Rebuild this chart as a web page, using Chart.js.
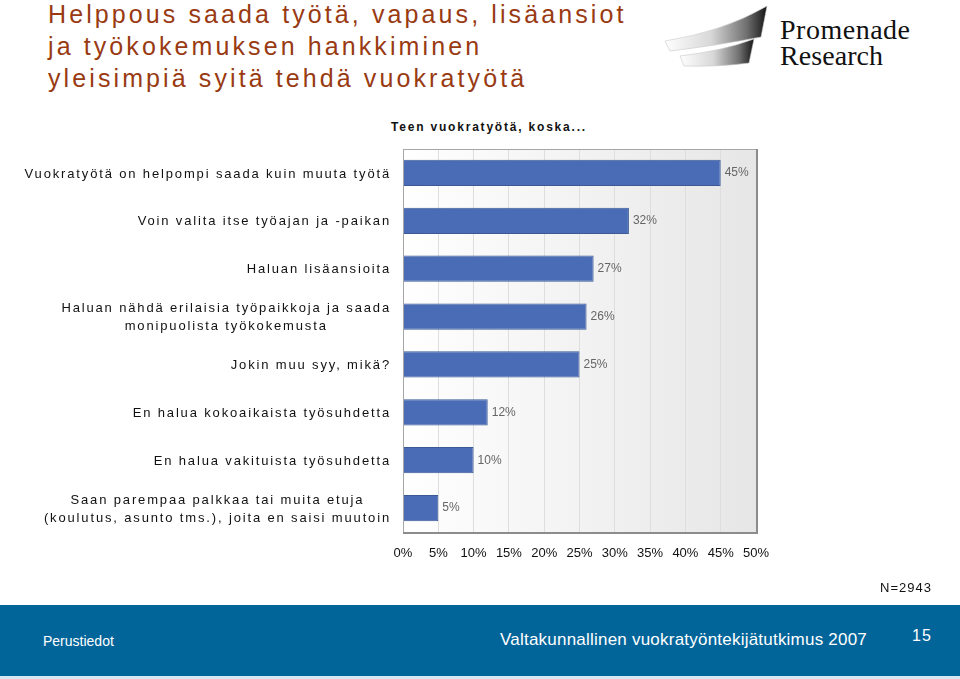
<!DOCTYPE html>
<html>
<head>
<meta charset="utf-8">
<script src="https://cdn.jsdelivr.net/npm/chart.js@4.4.1/dist/chart.umd.min.js"></script>
<style>
  html, body { margin: 0; padding: 0; background: #fff; }
  body { width: 960px; height: 679px; position: relative; overflow: hidden; font-family: "Liberation Sans", Arial, sans-serif; }
  #chartWrap { position: absolute; left: 0; top: 0; width: 960px; height: 679px; }
  .title { position: absolute; left: 48px; top: -2px; color: #993a12; font-size: 25px; line-height: 32px; letter-spacing: 3.1px; }
  .subtitle { position: absolute; left: 391px; top: 120px; font-size: 12px; font-weight: bold; letter-spacing: 1.8px; color: #111; }
  .n { position: absolute; left: 880px; top: 580px; font-size: 13px; letter-spacing: 1px; color: #111; }
  .footer { position: absolute; left: 0; top: 605px; width: 960px; height: 71px; background: #02659a; border-bottom: 3px solid #d6e9f3; color: #fff; }
  .footer .left { position: absolute; left: 43px; top: 28px; font-size: 14px; }
  .footer .mid { position: absolute; left: 500px; top: 25px; font-size: 17px; letter-spacing: 0.22px; }
  .footer .page { position: absolute; left: 912px; top: 22px; font-size: 16px; letter-spacing: 1px; }
  .logo { position: absolute; left: 660px; top: 0; }
</style>
</head>
<body>

<div class="title">Helppous saada työtä, vapaus, lisäansiot<br>ja työkokemuksen hankkiminen<br>yleisimpiä syitä tehdä vuokratyötä</div>

<svg class="logo" width="300" height="80" viewBox="0 0 300 80">
  <defs>
    <linearGradient id="sw" x1="0" x2="1" y1="0" y2="0">
      <stop offset="0" stop-color="#ffffff"/>
      <stop offset="0.45" stop-color="#d8d8d8"/>
      <stop offset="0.8" stop-color="#707070"/>
      <stop offset="1" stop-color="#151515"/>
    </linearGradient>
  </defs>
  <path d="M5 41 Q62 32 107 6 L101 37 Q60 45 10 51 Z" fill="url(#sw)" stroke="#c8c8c8" stroke-width="0.6"/>
  <path d="M20 56 Q62 51 94 39 L89 63 Q58 67 24 66 Z" fill="url(#sw)" stroke="#c8c8c8" stroke-width="0.6"/>
  <text x="120" y="39" font-family="Liberation Serif, DejaVu Serif, serif" font-size="28" textLength="130" fill="#111">Promenade</text>
  <text x="120" y="65" font-family="Liberation Serif, DejaVu Serif, serif" font-size="28" textLength="103" fill="#111">Research</text>
</svg>

<div class="subtitle">Teen vuokratyötä, koska...</div>

<div id="chartWrap"><canvas id="reasonChart"></canvas></div>

<div class="n">N=2943</div>

<div class="footer">
  <div class="left">Perustiedot</div>
  <div class="mid">Valtakunnallinen vuokratyöntekijätutkimus 2007</div>
  <div class="page">15</div>
</div>

<script>
///////////////////////////
// DATA
///////////////////////////

const reasonLabels = [
    ["Vuokratyötä on helpompi saada kuin muuta työtä"],
    ["Voin valita itse työajan ja -paikan"],
    ["Haluan lisäansioita"],
    ["Haluan nähdä erilaisia työpaikkoja ja saada", "monipuolista työkokemusta"],
    ["Jokin muu syy, mikä?"],
    ["En halua kokoaikaista työsuhdetta"],
    ["En halua vakituista työsuhdetta"],
    ["Saan parempaa palkkaa tai muita etuja", "(koulutus, asunto tms.), joita en saisi muutoin"]
];
const reasonValues = [45, 32, 27, 26, 25, 12, 10, 5];
const tickValues = [0, 5, 10, 15, 20, 25, 30, 35, 40, 45, 50];

///////////////////////////
// PLUGINS
///////////////////////////

// gradient plot background
const plotBackground = {
    id: "plotBackground",
    beforeDraw(chart) {
        const { ctx, chartArea: a } = chart;
        const g = ctx.createLinearGradient(a.left, 0, a.right, 0);
        g.addColorStop(0, "#ffffff");
        g.addColorStop(1, "#e6e6e6");
        ctx.save();
        ctx.fillStyle = g;
        ctx.fillRect(a.left, a.top, a.right - a.left, a.bottom - a.top);
        ctx.restore();
    }
};

// frame round the plot area
const plotFrame = {
    id: "plotFrame",
    afterDraw(chart) {
        const { ctx, chartArea: a } = chart;
        ctx.save();
        ctx.strokeStyle = "#a6a6a6";
        ctx.lineWidth = 1;
        ctx.strokeRect(Math.round(a.left) + 0.5, Math.round(a.top) + 0.5,
            Math.round(a.right - a.left), Math.round(a.bottom - a.top));
        ctx.strokeStyle = "#8c8c8c";
        ctx.lineWidth = 2;
        ctx.beginPath();
        ctx.moveTo(Math.round(a.right) + 1, a.top);
        ctx.lineTo(Math.round(a.right) + 1, a.bottom + 1);
        ctx.lineTo(a.left, a.bottom + 1);
        ctx.stroke();
        ctx.restore();
    }
};

// category labels: block right-aligned, lines centered in block
const categoryLabels = {
    id: "categoryLabels",
    afterDraw(chart) {
        const { ctx } = chart;
        const y = chart.scales.y;
        const right = chart.chartArea.left - 12;
        ctx.save();
        ctx.font = "13px 'Liberation Sans', Arial, sans-serif";
        ctx.letterSpacing = "1.85px";
        ctx.fillStyle = "#111";
        ctx.textAlign = "center";
        ctx.textBaseline = "middle";
        reasonLabels.forEach((lines, i) => {
            const cy = y.getPixelForTick(i) + 1;
            const w = Math.max(...lines.map(l => ctx.measureText(l).width));
            const cx = right - w / 2;
            const lh = 18;
            lines.forEach((l, j) => {
                ctx.fillText(l, cx, cy + (j - (lines.length - 1) / 2) * lh);
            });
        });
        ctx.restore();
    }
};

// value labels at bar ends
const valueLabels = {
    id: "valueLabels",
    afterDatasetsDraw(chart) {
        const { ctx } = chart;
        const meta = chart.getDatasetMeta(0);
        ctx.save();
        ctx.font = "12px 'Liberation Sans', Arial, sans-serif";
        ctx.fillStyle = "#666";
        ctx.textAlign = "left";
        ctx.textBaseline = "middle";
        meta.data.forEach((bar, i) => {
            ctx.fillText(reasonValues[i] + "%", bar.x + 4, bar.y);
        });
        ctx.restore();
    }
};

///////////////////////////
// CHART
///////////////////////////

const ctx = document.getElementById("reasonChart").getContext("2d");

new Chart(ctx, {
    type: "bar",
    data: {
        labels: reasonLabels.map(l => l.join(" ")),
        datasets: [{
            data: reasonValues,
            backgroundColor: "#4a6cb7",
            borderColor: "#3b5996",
            borderWidth: 1,
            categoryPercentage: 1,
            barPercentage: 0.55
        }]
    },
    options: {
        indexAxis: "y",
        responsive: true,
        maintainAspectRatio: false,
        animation: false,
        layout: { padding: { left: 403, right: 204, top: 149, bottom: 117 } },
        plugins: {
            legend: { display: false },
            tooltip: { enabled: false }
        },
        scales: {
            x: {
                min: 0,
                max: 50,
                afterBuildTicks: s => { s.ticks = tickValues.map(v => ({ value: v })); },
                afterFit: s => { s.height = 30; },
                grid: { color: "#dedede", drawTicks: false },
                border: { display: false },
                ticks: {
                    padding: 14,
                    color: "#111",
                    font: { family: "'Liberation Sans', Arial, sans-serif", size: 13 },
                    callback: v => v + "%"
                }
            },
            y: {
                afterFit: s => { s.width = 0; },
                grid: { display: false },
                border: { display: false },
                ticks: { display: false }
            }
        }
    },
    plugins: [plotBackground, plotFrame, categoryLabels, valueLabels]
});
</script>
</body>
</html>
